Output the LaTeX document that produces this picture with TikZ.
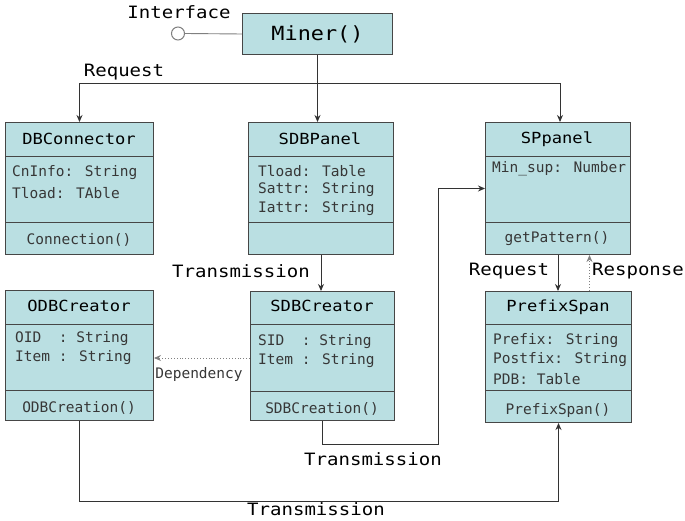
\documentclass[tikz,border=0pt]{standalone}
\usepackage{fontspec}
\usetikzlibrary{arrows.meta}
\newfontfamily\attrfont{DejaVu Sans Mono}
\newfontfamily\widefont[FakeStretch=1.12]{DejaVu Sans Mono}
\definecolor{clsfill}{RGB}{186,223,226}
\definecolor{clsline}{RGB}{70,70,70}
\definecolor{attrtext}{RGB}{55,55,55}
\tikzset{
  cls/.style={draw=clsline, fill=clsfill, line width=1pt, anchor=north west, inner sep=0pt},
  divider/.style={draw=clsline, line width=0.9pt},
  title/.style={font=\widefont\fontsize{15.3}{16}\selectfont, inner sep=0pt},
  attr/.style={font=\attrfont\fontsize{14.5}{16}\selectfont, text=attrtext, inner sep=0pt, anchor=west},
  meth/.style={font=\attrfont\fontsize{14.5}{16}\selectfont, text=attrtext, inner sep=0pt},
  lbl/.style={font=\widefont\fontsize{17}{18}\selectfont, inner sep=0pt},
  arr/.style={draw=black!80, line width=0.9pt, -{Stealth[length=7pt,width=6pt]}},
  dep/.style={draw=gray, line width=0.9pt, dotted, -{Stealth[length=7pt,width=6pt]}},
  conn/.style={draw=black!80, line width=0.9pt},
}
\begin{document}
\begin{tikzpicture}[x=1pt, y=-1pt]
\useasboundingbox (0,0) rectangle (685,521);

% Miner and its interface lollipop
\node[cls, minimum width=150pt, minimum height=41pt] (miner) at (242,13) {};
\node[font=\widefont\fontsize{19.5}{20}\selectfont, inner sep=0pt] at (miner.center) {Miner()};
\node[circle, draw=gray, line width=1pt, fill=white, minimum size=13pt, inner sep=0pt] (iface) at (178,33.5) {};
\draw[conn, draw=gray] (iface.east) -- (miner.west);
\node[lbl] at (179,12) {Interface};

% DBConnector
\node[cls, minimum width=148pt, minimum height=132pt] (dbc) at (5,122) {};
\draw[divider] (5,156) -- (153,156);
\draw[divider] (5,222) -- (153,222);
\node[title] at (79,139) {DBConnector};
\node[attr] at (12,173) {CnInfo: String};
\node[attr] at (12,193) {Tload: TAble};
\node[meth] at (79,240) {Connection()};

% SDBPanel
\node[cls, minimum width=145pt, minimum height=132pt] (sdbp) at (248,122) {};
\draw[divider] (248,156) -- (393,156);
\draw[divider] (248,222) -- (393,222);
\node[title] at (320,139) {SDBPanel};
\node[attr] at (258,171) {Tload: Table};
\node[attr] at (258,190) {Sattr: String};
\node[attr] at (258,209) {Iattr: String};

% SPpanel
\node[cls, minimum width=145pt, minimum height=132pt] (spp) at (485,122) {};
\draw[divider] (485,156) -- (630,156);
\draw[divider] (485,222) -- (630,222);
\node[title] at (557,139) {SPpanel};
\node[attr] at (492,169) {Min\_sup: Number};
\node[meth] at (557,239) {getPattern()};

% ODBCreator
\node[cls, minimum width=148pt, minimum height=130pt] (odbc) at (5,290) {};
\draw[divider] (5,324) -- (153,324);
\draw[divider] (5,390) -- (153,390);
\node[title] at (79,306) {ODBCreator};
\node[attr] at (15,339) {OID\ \ : String};
\node[attr] (oitem) at (15,358) {Item : String};
\node[meth] at (79,408) {ODBCreation()};

% SDBCreator
\node[cls, minimum width=144pt, minimum height=129pt] (sdbc) at (250,291) {};
\draw[divider] (250,324) -- (394,324);
\draw[divider] (250,391) -- (394,391);
\node[title] at (322,306) {SDBCreator};
\node[attr] at (258,342) {SID\ \ : String};
\node[attr] at (258,361) {Item : String};
\node[meth] at (322,409) {SDBCreation()};

% PrefixSpan
\node[cls, minimum width=146pt, minimum height=131pt] (pfs) at (485,291) {};
\draw[divider] (485,324) -- (631,324);
\draw[divider] (485,390) -- (631,390);
\node[title] at (558,307) {PrefixSpan};
\node[attr] at (493,341) {Prefix: String};
\node[attr] at (493,360) {Postfix: String};
\node[attr] at (493,379) {PDB: Table};
\node[meth] at (558,410) {PrefixSpan()};

% Requests from Miner
\coordinate (rq) at (miner.south |- 0,83);
\draw[arr] (miner.south) -- (miner.south |- sdbp.north);
\draw[arr] (rq) -| (dbc.north);
\draw[arr] (rq) -| ([xshift=2pt]spp.north);
\node[lbl] at (124,72) {Request};

% SDBPanel to SDBCreator
\draw[arr] (sdbp.south) -- (sdbp.south |- sdbc.north);
\node[lbl] at (241,271) {Transmission};

% Dependency
\draw[dep] (sdbc.west |- oitem) -- (odbc.east |- oitem);
\node[meth] at (199,374) {Dependency};

% SPpanel and PrefixSpan
\draw[arr] (spp.south) -- (spp.south |- pfs.north);
\draw[dep] ([xshift=31pt]pfs.north) -- ([xshift=31pt]pfs.north |- spp.south);
\node[lbl] at (509,271) {Request};
\node[lbl] at (638,271) {Response};

% SDBCreator to SPpanel
\coordinate (t1) at (438,444);
\draw[arr] (sdbc.south) |- (t1) |- (spp.west);
\node[lbl] at (373,459) {Transmission};

% ODBCreator to PrefixSpan
\draw[arr] (odbc.south) -- ++(0,80) -| (pfs.south);
\node[lbl] at (316,509) {Transmission};
\end{tikzpicture}
\end{document}
